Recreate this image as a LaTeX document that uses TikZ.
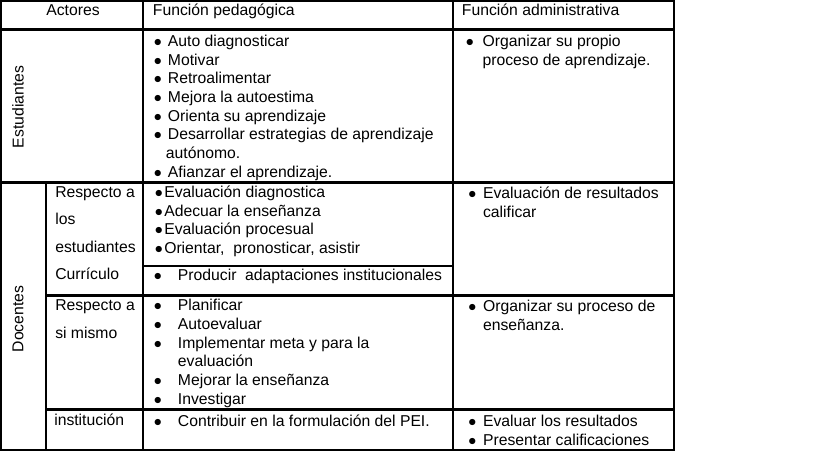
\documentclass[tikz,border=0pt]{standalone}
\usepackage{fontspec}
\setmainfont{Liberation Sans}
\usetikzlibrary{positioning}
\newcommand{\vin}[1]{\makebox[#1][l]{\hspace*{-1pt}$\bullet$}}
\newcommand{\sig}[1]{\hspace*{#1}}
\tikzset{%
linea/.style={draw=black, line width=1.6pt},
titulo/.style={inner sep=0pt, font=\fontsize{11.8}{14}\selectfont},
celda/.style={anchor=base west, inner sep=0pt, font=\fontsize{11.8}{14}\selectfont},
actor/.style={anchor=base west, inner sep=0pt, font=\fontsize{11.8}{20.6}\selectfont},
rotulo/.style={inner sep=0pt, rotate=90, font=\fontsize{11.8}{14}\selectfont}
}

\begin{document}
\begin{tikzpicture}[x=0.75pt, y=-0.75pt]
		\useasboundingbox (0,0) rectangle (819,470);
	
		\draw[linea] (1,1) rectangle (674,450);
		\draw[linea] (1,29.5) -- (674,29.5);
		\draw[linea] (1,182.5) -- (674,182.5);
		\draw[linea] (143.3,266) -- (453,266);
		\draw[linea] (46,295.5) -- (674,295.5);
		\draw[linea] (46,409.5) -- (674,409.5);
		\draw[linea] (143.3,1) -- (143.3,450);
		\draw[linea] (453,1) -- (453,450);
		\draw[linea] (46,182.5) -- (46,450);
	
		\node[titulo, anchor=base] (actores) at (73,16) {Actores};
		\node[titulo, anchor=base west] (fped) at (152.7,16) {Función pedagógica};
		\node[titulo, anchor=base west] (fadm) at (461.7,16) {Función administrativa};
	
		\node[rotulo] (estud) at (18,107) {Estudiantes};
		\node[rotulo] (docen) at (18,319) {Docentes};
	
		\node[celda] (pedest) at (155,46.5) {\begin{tabular}[t]{@{}l@{}}
			\vin{9.5pt}Auto diagnosticar\\
			\vin{9.5pt}Motivar\\
			\vin{9.5pt}Retroalimentar\\
			\vin{9.5pt}Mejora la autoestima\\
			\vin{9.5pt}Orienta su aprendizaje\\
			\vin{9.5pt}Desarrollar estrategias de aprendizaje\\
			\sig{8pt}autónomo.\\
			\vin{9.5pt}Afianzar el aprendizaje.
		\end{tabular}};
		\node[celda] (admest) at (467,47) {\begin{tabular}[t]{@{}l@{}}
			\vin{11.5pt}Organizar su propio\\
			\sig{11.5pt}proceso de aprendizaje.
		\end{tabular}};
	
		\node[actor] (resalu) at (55,197.5) {\begin{tabular}[t]{@{}l@{}}
			Respecto a\\ los\\ estudiantes
		\end{tabular}};
		\node[celda] (curri) at (55,280) {Currículo};
		\node[celda] (pedalu) at (156,197.5) {\begin{tabular}[t]{@{}l@{}}
			\vin{6pt}Evaluación diagnostica\\
			\vin{6pt}Adecuar la enseñanza\\
			\vin{6pt}Evaluación procesual\\
			\vin{6pt}Orientar,\ \ pronosticar, asistir
		\end{tabular}};
		\node[celda] (pedcur) at (155,280.5) {\vin{17pt}Producir\ \ adaptaciones institucionales};
		\node[celda] (admalu) at (469.5,199) {\begin{tabular}[t]{@{}l@{}}
			\vin{10pt}Evaluación de resultados\\
			\sig{10pt}calificar
		\end{tabular}};
	
		\node[actor] (resmis) at (55,311) {\begin{tabular}[t]{@{}l@{}}
			Respecto a\\ si mismo
		\end{tabular}};
		\node[celda] (pedmis) at (155,311) {\begin{tabular}[t]{@{}l@{}}
			\vin{17pt}Planificar\\
			\vin{17pt}Autoevaluar\\
			\vin{17pt}Implementar meta y para la\\
			\sig{17pt}evaluación\\
			\vin{17pt}Mejorar la enseñanza\\
			\vin{17pt}Investigar
		\end{tabular}};
		\node[celda] (admmis) at (469.5,311.5) {\begin{tabular}[t]{@{}l@{}}
			\vin{10pt}Organizar su proceso de\\
			\sig{10pt}enseñanza.
		\end{tabular}};
	
		\node[celda] (insti) at (54,426) {institución};
		\node[celda] (pedins) at (155,426.5) {\vin{17pt}Contribuir en la formulación del PEI.};
		\node[celda] (admins) at (469.5,426.5) {\begin{tabular}[t]{@{}l@{}}
			\vin{10pt}Evaluar los resultados\\
			\vin{10pt}Presentar calificaciones
		\end{tabular}};
	\end{tikzpicture}
\end{document}
